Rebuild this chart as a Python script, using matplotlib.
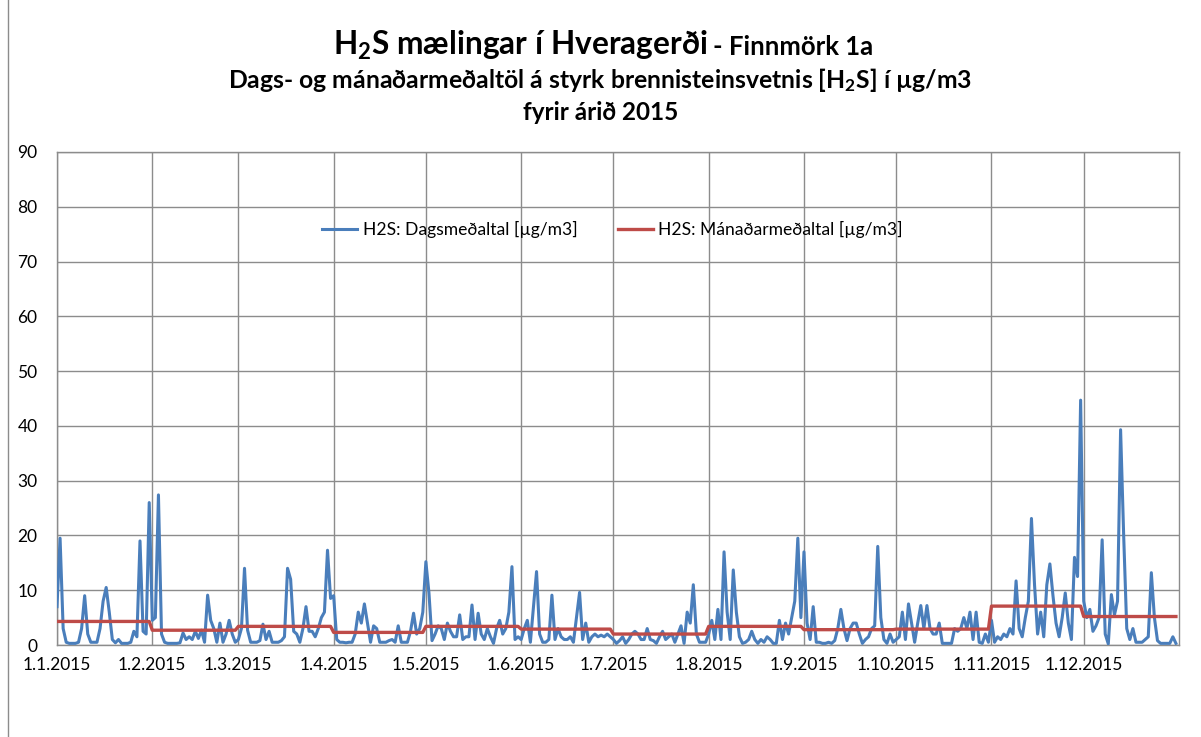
import matplotlib
matplotlib.use('Agg')
import matplotlib.pyplot as plt
import matplotlib.dates as mdates
from matplotlib.lines import Line2D
import pandas as pd

# daily H2S averages [µg/m3], 2015
jan = [7, 19.5, 3, 0.5, 0.3, 0.3, 0.3, 0.5, 3, 9, 2, 0.5, 0.5, 0.5, 3, 8, 10.5, 6, 1, 0.4,
       1, 0.3, 0.3, 0.3, 0.5, 2.5, 1.5, 19, 2.5, 2, 26]
feb = [4.5, 5, 27.4, 2, 0.5, 0.3, 0.3, 0.3, 0.3, 0.4, 2.2, 1, 1.5, 1, 2.5, 1.2, 2.7, 0.5,
       9.1, 4.5, 3, 0.5, 4, 0.5, 2, 4.5, 2, 0.5]
mar = [1, 3, 14, 2.7, 0.5, 0.5, 0.5, 0.8, 3.8, 1, 2.5, 0.5, 0.5, 0.5, 0.8, 1.5, 14, 12,
       2.5, 2, 0.5, 3, 7, 2.5, 2.5, 1.5, 3, 5, 6, 17.3, 8.5]
apr = [9, 1, 0.5, 0.5, 0.4, 0.5, 0.5, 2, 6, 4, 7.5, 4, 0.5, 3.5, 3, 0.5, 0.5, 0.5, 0.8,
       1, 0.5, 3.5, 0.5, 0.5, 0.5, 2.5, 5.8, 2, 3, 6]
may = [15.2, 9.5, 0.8, 2, 3.5, 3, 1, 4, 2.5, 1.5, 1.5, 5.5, 1, 1.5, 1.5, 7.3, 1, 5.8, 2,
       1, 3, 1.5, 0.3, 3, 4.5, 2, 3, 6, 14.3, 1, 1.5]
jun = [1, 3, 4.5, 0.5, 7, 13.4, 2, 0.5, 0.5, 1, 9.1, 1, 3, 1.5, 1, 1, 1.5, 0.5, 5, 9.6,
       1, 4, 0.5, 1.5, 2, 1.5, 1.8, 1.5, 2, 1.5]
jul = [1, 0.3, 0.8, 1.5, 0.3, 1, 2, 2.5, 2, 1, 1, 3, 1, 0.8, 0.3, 1.5, 2.5, 1, 1.5, 2,
       0.5, 2, 3.5, 0.3, 6, 4, 11, 2, 0.5, 0.5, 0.5]
aug = [2, 4.5, 1, 6.5, 1, 17, 6, 1, 13.7, 6, 1.5, 0.3, 0.5, 1, 2.5, 1, 0.3, 1, 0.5, 1.5,
       1, 0.3, 0.3, 4.5, 1, 4, 2, 5, 8, 19.5, 5]
sep = [17, 4, 1, 7, 0.5, 0.5, 0.3, 0.3, 0.5, 0.3, 0.8, 3, 6.5, 3, 0.8, 3, 4, 4, 2, 0.3,
       1, 1.5, 3, 3.5, 18, 5, 1, 0.3, 2, 0.5]
okt = [1, 1.5, 6, 1, 7.5, 4, 0.5, 4, 7.2, 3, 7.2, 3, 2, 2, 4, 0.3, 0.3, 0.3, 0.3, 3,
       2.5, 3, 5, 3, 6, 1, 6, 0.5, 0.3, 2, 0.5]
nov = [4.5, 0.5, 1.5, 1, 2, 1.5, 3, 2, 11.7, 3, 1.5, 5, 8, 23.1, 11, 2, 6, 1.5, 11, 14.8,
       9, 4, 1.5, 5, 9.5, 4, 1, 16, 12.5, 44.7]
des = [8, 5, 6.5, 2.5, 3.5, 5, 19.2, 2, 0.2, 9.2, 5.5, 8, 39.3, 20, 3, 1, 3, 0.5, 0.5,
       0.5, 1, 1.5, 13.2, 5, 0.8, 0.3, 0.3, 0.3, 0.3, 1.5, 0.3]

# monthly averages [µg/m3]
monthly = [4.3, 2.7, 3.4, 2.3, 3.4, 2.9, 2.0, 3.4, 2.8, 2.9, 7.1, 5.2]

daily = jan + feb + mar + apr + may + jun + jul + aug + sep + okt + nov + des
days = pd.date_range('2015-01-01', periods=len(daily), freq='D')
monthly_daily = [monthly[d.month - 1] for d in days]

font = 'Lato'
plt.rcParams['font.family'] = [font, 'DejaVu Sans']
plt.rcParams['mathtext.fontset'] = 'custom'
plt.rcParams['mathtext.rm'] = 'Lato:bold'
plt.rcParams['mathtext.it'] = 'Lato:bold'
plt.rcParams['mathtext.bf'] = 'Lato:bold'

fig = plt.figure(figsize=(12.01, 7.37), dpi=100)
ax = fig.add_axes([57 / 1201, 1 - 645 / 737, (1179 - 57) / 1201, (645 - 152) / 737])

ax.plot(days, daily, color='#4a7ebb', lw=2.2, label='H2S: Dagsmeðaltal [µg/m3]', zorder=3)
ax.plot(days, monthly_daily, color='#be4b48', lw=2.4, label='H2S: Mánaðarmeðaltal [µg/m3]', zorder=4)

ax.set_ylim(0, 90)
ax.set_yticks(range(0, 91, 10))
ax.set_xlim(pd.Timestamp('2015-01-01'), pd.Timestamp('2016-01-01'))
ax.set_xticks(pd.date_range('2015-01-01', periods=12, freq='MS'))
ax.xaxis.set_major_formatter(plt.FuncFormatter(
    lambda v, pos: '{0.day}.{0.month}.{0.year}'.format(mdates.num2date(v))))

ax.grid(True, color='#8c8c8c', lw=1.0)
ax.set_axisbelow(True)
for s in ax.spines.values():
    s.set_color('#8c8c8c')
    s.set_linewidth(1.0)
ax.tick_params(length=0, labelsize=12.5, colors='black')
ax.tick_params(axis='y', pad=14)
ax.tick_params(axis='x', pad=9)

ax.legend(loc='center', bbox_to_anchor=(0.495, 0.842), ncol=2, frameon=False,
          fontsize=12.6, handlelength=2.0, columnspacing=2.3, handletextpad=0.3)

# titles
fig.text(708 / 1201, 1 - 45 / 737, 'H$_2$S mælingar í Hveragerði', ha='right', va='center',
         fontsize=22.8, fontweight='bold')
fig.text(713 / 1201, 1 - 47 / 737, '- Finnmörk 1a', ha='left', va='center',
         fontsize=18.5, fontweight='bold')
fig.text(0.5, 1 - 80 / 737, 'Dags- og mánaðarmeðaltöl á styrk brennisteinsvetnis [H$_2$S] í µg/m3',
         ha='center', va='center', fontsize=17.8, fontweight='bold')
fig.text(0.5, 1 - 113 / 737, 'fyrir árið 2015', ha='center', va='center',
         fontsize=17.5, fontweight='bold')

# outer chart frame
fig.add_artist(Line2D([8 / 1201, 8 / 1201], [0, 1], transform=fig.transFigure,
                      color='#8c8c8c', lw=1.0))

fig.savefig('out.png', dpi=100)
